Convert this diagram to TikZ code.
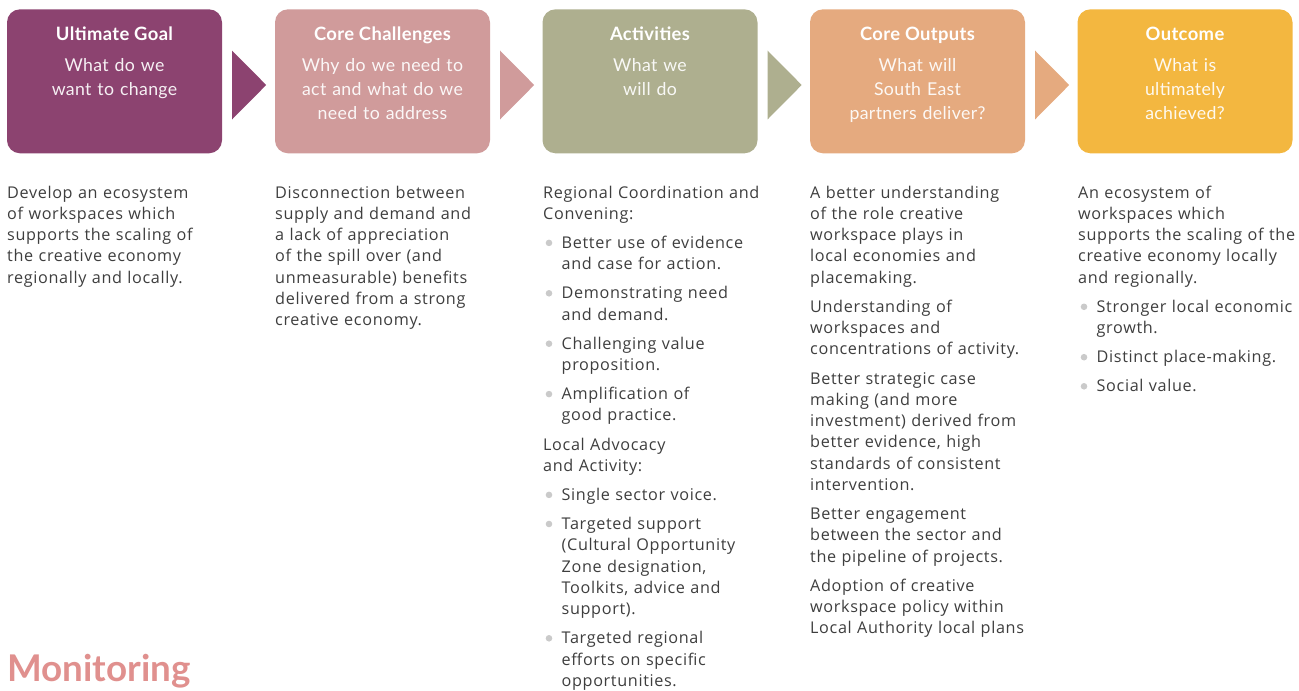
\documentclass[tikz,border=0pt]{standalone}
\usepackage{fontspec}
\setmainfont{Lato}
\newfontfamily\headfont[LetterSpace=2]{Lato}
\newfontfamily\bodyfont[LetterSpace=4]{Open Sans}
\usetikzlibrary{calc}

\definecolor{goalc}{HTML}{8C4370}
\definecolor{challc}{HTML}{D09B9B}
\definecolor{actc}{HTML}{AEAF8F}
\definecolor{outc}{HTML}{E5AA7F}
\definecolor{resc}{HTML}{F3B740}
\definecolor{bodygray}{HTML}{3E3E3E}
\definecolor{bulgray}{HTML}{CACACA}
\definecolor{monc}{HTML}{E0908E}

% grey round bullet and matching hanging indent
\newcommand\bul{\makebox[18.5pt][l]{\hspace*{2.5pt}\tikz[x=1pt,y=1pt,baseline=0pt]\fill[bulgray] (0,5.5) circle[radius=3.3];}}
\newcommand\ind{\hspace*{18.5pt}}
\newcommand\gap{\\[7.8pt]}

\begin{document}
\begin{tikzpicture}[x=1pt,y=-1pt,
  stage/.style={rounded corners=13pt, minimum width=215pt, minimum height=144pt, inner sep=0pt, draw=none},
  headtitle/.style={anchor=base, inner sep=0pt, text=white, font=\headfont\fontsize{18.4}{18.4}\selectfont\bfseries},
  headsub/.style={anchor=base, inner sep=0pt, text width=215pt, align=center, text=white, text opacity=0.92, font=\headfont\fontsize{17.7}{24.2}\selectfont},
  coltext/.style={anchor=base west, inner sep=0pt, text width=250pt, align=left, text=bodygray, font=\bodyfont\fontsize{16.2}{21.3}\selectfont},
  pointer/.style={fill=#1, draw=none}]

\useasboundingbox (0,0) rectangle (1299,691);

% coloured stage boxes
\node[stage, fill=goalc]  (box1) at (114.5,81.3) {};
\node[stage, fill=challc] (box2) at (382.5,81.3) {};
\node[stage, fill=actc]   (box3) at (650.0,81.3) {};
\node[stage, fill=outc]   (box4) at (917.5,81.3) {};
\node[stage, fill=resc]   (box5) at (1185.0,81.3) {};

% triangular pointers between the stages
\foreach \b/\c in {box1/goalc, box2/challc, box3/actc, box4/outc}{
  \fill[pointer=\c] ($(\b.east)+(10,-30.6)$) -- ($(\b.east)+(44,3.7)$) -- ($(\b.east)+(10,38)$) -- cycle;
}

% stage headings
\node[headtitle] (t1) at ($(box1.north)+(0,31.6)$) {Ultimate Goal};
\node[headtitle] (t2) at ($(box2.north)+(0,31.6)$) {Core Challenges};
\node[headtitle] (t3) at ($(box3.north)+(0,31.6)$) {Activities};
\node[headtitle] (t4) at ($(box4.north)+(0,31.6)$) {Core Outputs};
\node[headtitle] (t5) at ($(box5.north)+(0,31.6)$) {Outcome};

\node[headsub] (s1) at ($(box1.north)+(0,62)$) {What do we\\want to change};
\node[headsub] (s2) at ($(box2.north)+(0,62)$) {Why do we need to\\act and what do we\\need to address};
\node[headsub] (s3) at ($(box3.north)+(0,62)$) {What we\\will do};
\node[headsub] (s4) at ($(box4.north)+(0,62)$) {What will\\South East\\partners deliver?};
\node[headsub] (s5) at ($(box5.north)+(0,62)$) {What is\\ultimately\\achieved?};

% column texts
\node[coltext] (c1) at (7,198) {Develop an ecosystem\\of workspaces which\\supports the scaling of\\the creative economy\\regionally and locally.};

\node[coltext] (c2) at (275,198) {Disconnection between\\supply and demand and\\a lack of appreciation\\of the spill over (and\\unmeasurable) benefits\\delivered from a strong\\creative economy.};

\node[coltext] (c3) at (543,198) {Regional Coordination and\\Convening:\gap
\bul Better use of evidence\\\ind and case for action.\gap
\bul Demonstrating need\\\ind and demand.\gap
\bul Challenging value\\\ind proposition.\gap
\bul Amplification of\\\ind good practice.\gap
Local Advocacy\\and Activity:\gap
\bul Single sector voice.\gap
\bul Targeted support\\\ind (Cultural Opportunity\\\ind Zone designation,\\\ind Toolkits, advice and\\\ind support).\gap
\bul Targeted regional\\\ind efforts on specific\\\ind opportunities.};

\node[coltext] (c4) at (810,198) {A better understanding\\of the role creative\\workspace plays in\\local economies and\\placemaking.\gap
Understanding of\\workspaces and\\concentrations of activity.\gap
Better strategic case\\making (and more\\investment) derived from\\better evidence, high\\standards of consistent\\intervention.\gap
Better engagement\\between the sector and\\the pipeline of projects.\gap
Adoption of creative\\workspace policy within\\Local Authority local plans};

\node[coltext] (c5) at (1078,198) {An ecosystem of\\workspaces which\\supports the scaling of the\\creative economy locally\\and regionally.\gap
\bul Stronger local economic\\\ind growth.\gap
\bul Distinct place-making.\gap
\bul Social value.};

% section heading at the foot
\node[anchor=base west, inner sep=0pt, text=monc, font=\fontsize{36.8}{36.8}\selectfont\bfseries] (mon) at (7,681) {Monitoring};

\end{tikzpicture}
\end{document}
